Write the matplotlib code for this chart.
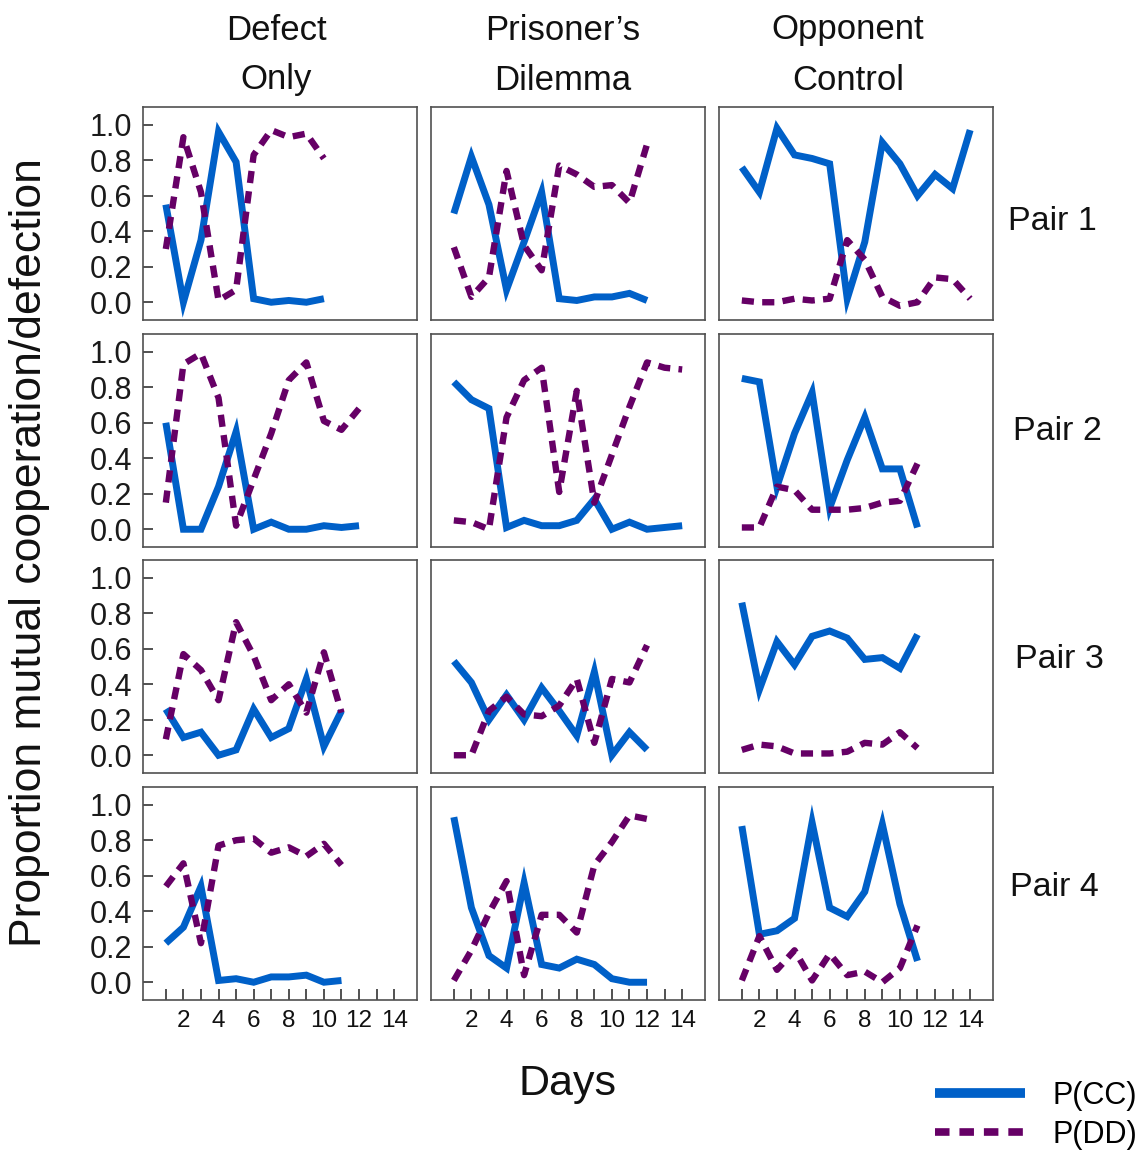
import matplotlib
matplotlib.use("Agg")
import matplotlib.pyplot as plt
from matplotlib.ticker import FixedLocator, FuncFormatter

plt.rcParams['font.family'] = ['Liberation Sans', 'DejaVu Sans']

# ---- data ----
days = list(range(1, 15))
conditions = ["Defect\nOnly", "Prisoner’s\nDilemma", "Opponent\nControl"]
pairs = ["Pair 1", "Pair 2", "Pair 3", "Pair 4"]

defect_cc = [
    [0.55, 0.00, 0.35, 0.96, 0.79, 0.02, 0.00, 0.01, 0.00, 0.02],
    [0.60, 0.00, 0.00, 0.24, 0.55, 0.00, 0.04, 0.00, 0.00, 0.02, 0.01, 0.02],
    [0.26, 0.10, 0.13, 0.00, 0.03, 0.26, 0.10, 0.15, 0.43, 0.05, 0.25],
    [0.22, 0.31, 0.54, 0.01, 0.02, 0.00, 0.03, 0.03, 0.04, 0.00, 0.01],
]
defect_dd = [
    [0.30, 0.93, 0.62, 0.01, 0.07, 0.83, 0.97, 0.93, 0.95, 0.81],
    [0.15, 0.93, 0.99, 0.74, 0.02, 0.28, 0.54, 0.84, 0.94, 0.61, 0.56, 0.68],
    [0.09, 0.57, 0.48, 0.31, 0.75, 0.56, 0.31, 0.40, 0.24, 0.58, 0.24],
    [0.54, 0.67, 0.22, 0.77, 0.80, 0.81, 0.73, 0.76, 0.71, 0.78, 0.66],
]
pd_cc = [
    [0.50, 0.82, 0.55, 0.07, 0.34, 0.62, 0.02, 0.01, 0.03, 0.03, 0.05, 0.01],
    [0.83, 0.73, 0.68, 0.01, 0.05, 0.02, 0.02, 0.05, 0.17, 0.00, 0.04, 0.00, 0.01, 0.02],
    [0.53, 0.41, 0.20, 0.34, 0.20, 0.38, 0.25, 0.11, 0.47, 0.00, 0.13, 0.03],
    [0.93, 0.42, 0.15, 0.08, 0.56, 0.10, 0.08, 0.13, 0.10, 0.02, 0.00, 0.00],
]
pd_dd = [
    [0.31, 0.03, 0.14, 0.74, 0.32, 0.18, 0.77, 0.72, 0.65, 0.66, 0.56, 0.89],
    [0.05, 0.04, 0.00, 0.63, 0.84, 0.91, 0.21, 0.78, 0.15, 0.42, 0.69, 0.94, 0.91, 0.90],
    [0.00, 0.00, 0.25, 0.33, 0.23, 0.22, 0.28, 0.43, 0.07, 0.43, 0.41, 0.62],
    [0.01, 0.18, 0.39, 0.57, 0.04, 0.38, 0.38, 0.28, 0.66, 0.79, 0.94, 0.92],
]
opp_cc = [
    [0.76, 0.62, 0.98, 0.83, 0.81, 0.78, 0.02, 0.34, 0.90, 0.78, 0.60, 0.72, 0.64, 0.97],
    [0.85, 0.83, 0.24, 0.54, 0.77, 0.12, 0.39, 0.63, 0.34, 0.34, 0.01],
    [0.86, 0.37, 0.64, 0.51, 0.67, 0.70, 0.66, 0.54, 0.55, 0.49, 0.68],
    [0.88, 0.27, 0.29, 0.36, 0.90, 0.42, 0.37, 0.51, 0.89, 0.44, 0.12],
]
opp_dd = [
    [0.01, 0.00, 0.00, 0.02, 0.01, 0.02, 0.35, 0.24, 0.03, -0.02, 0.00, 0.14, 0.13, 0.02],
    [0.01, 0.01, 0.24, 0.22, 0.11, 0.11, 0.11, 0.12, 0.15, 0.16, 0.37],
    [0.03, 0.06, 0.05, 0.01, 0.01, 0.01, 0.02, 0.07, 0.06, 0.13, 0.04],
    [0.01, 0.26, 0.07, 0.18, 0.01, 0.16, 0.04, 0.06, 0.00, 0.08, 0.32],
]

cc_by_cond = [defect_cc, pd_cc, opp_cc]
dd_by_cond = [defect_dd, pd_dd, opp_dd]

CC_COLOR = '#0060c8'
DD_COLOR = '#660066'
SPINE = '#505050'

W, H = 1145, 1150
fig = plt.figure(figsize=(W / 100, H / 100), dpi=100)

col_left = [143, 431, 719]
row_top = [107, 334, 560, 787]
ax_w, ax_h = 274, 213

first_lines = None
for r in range(4):
    for c in range(3):
        left = col_left[c] / W
        bottom = 1 - (row_top[r] + ax_h) / H
        ax = fig.add_axes([left, bottom, ax_w / W, ax_h / H])
        cc = cc_by_cond[c][r]
        dd = dd_by_cond[c][r]
        l1, = ax.plot(days[:len(cc)], cc, color=CC_COLOR, lw=5,
                      solid_joinstyle='miter', solid_capstyle='butt')
        l2, = ax.plot(days[:len(dd)], dd, color=DD_COLOR, lw=4.6,
                      linestyle=(0, (1.9, 1.3)), dash_capstyle='butt')
        if first_lines is None:
            first_lines = (l1, l2)
        ax.set_xlim(-0.3, 15.3)
        ax.set_ylim(-0.1, 1.1)
        for s in ax.spines.values():
            s.set_color(SPINE)
            s.set_linewidth(1.2)

        if c == 0:
            ax.yaxis.set_major_locator(FixedLocator([0, 0.2, 0.4, 0.6, 0.8, 1.0]))
            ax.yaxis.set_major_formatter(FuncFormatter(lambda v, p: f"{v:.1f}"))
            ax.tick_params(axis='y', direction='in', length=7, width=1.2,
                           color='#333333', labelsize=22, pad=8,
                           labelcolor='#1a1a1a')
        else:
            ax.set_yticks([])
        if r == 3:
            ax.xaxis.set_major_locator(FixedLocator(days))
            ax.xaxis.set_major_formatter(
                FuncFormatter(lambda v, p: f"{int(v)}" if int(v) % 2 == 0 else ""))
            ax.tick_params(axis='x', direction='in', length=8, width=1.2,
                           color='#333333', labelsize=17.5, pad=7,
                           labelcolor='#111111')
        else:
            ax.set_xticks([])

# column headings (two lines each)
heads = [(276, "Defect", "Only"), (563, "Prisoner’s", "Dilemma"),
         (848, "Opponent", "Control")]
for x, a, b in heads:
    fig.text(x / W, 1 - 30 / H, a, ha='center', va='center', fontsize=25,
             color='#111111')
    fig.text(x / W, 1 - 80 / H, b, ha='center', va='center', fontsize=25,
             color='#111111')

# row labels
pair_pos = [(1052, 221), (1057, 431), (1059, 660), (1054, 888)]
for (x, y), lab in zip(pair_pos, pairs):
    fig.text(x / W, 1 - y / H, lab, ha='center', va='center', fontsize=24.5,
             color='#111111')

fig.text(30 / W, 1 - 553 / H, "Proportion mutual cooperation/defection",
         rotation=90, ha='center', va='center', fontsize=32, color='#111111')
fig.text(568 / W, 1 - 1084 / H, "Days", ha='center', va='center',
         fontsize=31, color='#111111')

leg = fig.legend(first_lines, ["P(CC)", "P(DD)"], loc='upper left',
                 bbox_to_anchor=(935 / W, 1 - 1081 / H), frameon=False,
                 fontsize=22, handlelength=2.95, handletextpad=0.9,
                 labelspacing=0.3, borderpad=0, borderaxespad=0)
leg.get_lines()[0].set_linewidth(7)
leg.get_lines()[1].set_linewidth(5.5)

fig.savefig("out.png", dpi=100)
